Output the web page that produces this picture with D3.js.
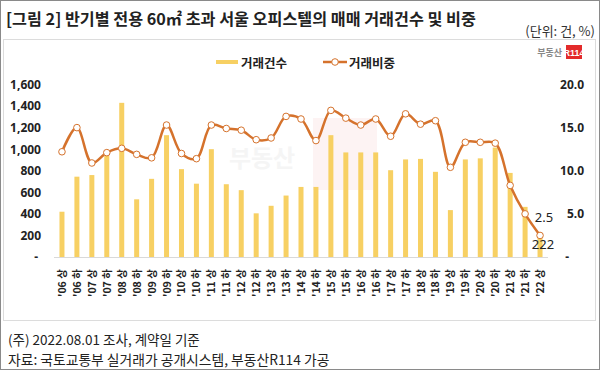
<!DOCTYPE html>
<html>
<head>
<meta charset="utf-8">
<script src="https://cdn.jsdelivr.net/npm/d3@7"></script>
<style>
  body { margin: 0; background: #fff; }
  svg { display: block; font-family: "Noto Sans CJK KR", "Noto Sans", sans-serif; }
</style>
</head>
<body>
<div class="chart"></div>
<script>
// half-year periods, '06 상 ~ '22 상
var periods = ["'06 상","'06 하","'07 상","'07 하","'08 상","'08 하","'09 상","'09 하","'10 상","'10 하",
  "'11 상","'11 하","'12 상","'12 하","'13 상","'13 하","'14 상","'14 하","'15 상","'15 하",
  "'16 상","'16 하","'17 상","'17 하","'18 상","'18 하","'19 상","'19 하","'20 상","'20 하",
  "'21 상","'21 하","'22 상"];

// 거래건수 (bars, left axis)
var dealCounts = [420, 745, 760, 940, 1430, 535, 725, 1130, 815, 680,
  1000, 675, 620, 405, 475, 570, 650, 650, 1130, 970,
  970, 970, 805, 905, 910, 790, 435, 905, 915, 1015,
  780, 465, 222];

// 거래비중 % (line, right axis)
var dealShare = [12.2, 15.0, 10.9, 12.1, 12.6, 11.9, 11.5, 15.3, 12.0, 11.4,
  15.3, 14.9, 14.7, 13.6, 13.8, 16.3, 16.0, 13.5, 17.0, 16.1,
  15.3, 16.0, 14.0, 16.6, 15.4, 15.8, 10.4, 13.3, 13.3, 13.2,
  8.3, 5.0, 2.5];

var leftTicks = [0, 200, 400, 600, 800, 1000, 1200, 1400, 1600];
var rightTicks = [0, 5, 10, 15, 20];

var W = 600, H = 370;
var barColor = '#F7D063';
var lineColor = '#D5722C';

var svg = d3.select('.chart').append('svg').attr('width', W).attr('height', H);

// outer frame + inner chart box
svg.append('rect').attr('x', 0.5).attr('y', 0.5).attr('width', W - 1).attr('height', H - 1)
  .attr('fill', '#fff').attr('stroke', '#8a8a8a');
svg.append('rect').attr('x', 3.5).attr('y', 39.5).attr('width', 592).attr('height', 281)
  .attr('fill', '#fff').attr('stroke', '#dcdcdc');

// title
svg.append('text').attr('x', 6).attr('y', 25)
  .attr('font-size', 16.2).attr('font-weight', 'bold').attr('fill', '#222')
  .text('[그림 2] 반기별 전용 60㎡ 초과 서울 오피스텔의 매매 거래건수 및 비중');
svg.append('text').attr('x', 595).attr('y', 36).attr('text-anchor', 'end')
  .attr('font-size', 13).attr('fill', '#333')
  .text('(단위: 건, %)');

// faint watermark
svg.append('text').attr('x', 262).attr('y', 167).attr('text-anchor', 'middle')
  .attr('font-size', 24).attr('font-weight', 'bold').attr('fill', '#f5f5f5')
  .text('부동산');
svg.append('rect').attr('x', 313).attr('y', 118).attr('width', 64).attr('height', 72)
  .attr('fill', '#fdf3f3');

// scales
var x = d3.scalePoint().domain(periods).range([54.5, 547.5]).padding(0.5);
var yLeft = d3.scaleLinear().domain([0, 1600]).range([257, 84.5]);
var yRight = d3.scaleLinear().domain([0, 20]).range([257, 84.5]);

// axes (labels only)
var leftAxis = svg.append('g').attr('transform', 'translate(41,0)')
  .call(d3.axisLeft(yLeft).tickValues(leftTicks).tickSize(0).tickPadding(0)
    .tickFormat(function (d) { return d === 0 ? '-' : d3.format(',')(d); }));
var rightAxis = svg.append('g').attr('transform', 'translate(584,0)')
  .call(d3.axisLeft(yRight).tickValues(rightTicks).tickSize(0).tickPadding(0)
    .tickFormat(function (d) { return d === 0 ? '-' : d3.format('.1f')(d); }));
[leftAxis, rightAxis].forEach(function (g) {
  g.select('.domain').remove();
  g.selectAll('text').attr('font-size', 12).attr('font-weight', 'bold').attr('fill', '#222')
    .attr('font-family', '"Noto Sans", sans-serif');
});
leftAxis.selectAll('text').filter(function (d) { return d === 0; }).attr('dx', -3);
rightAxis.selectAll('text').filter(function (d) { return d === 0; }).attr('dx', -15);

// x axis line
svg.append('line').attr('x1', 54).attr('x2', 548).attr('y1', 257.5).attr('y2', 257.5)
  .attr('stroke', '#d9d9d9');

// bars
svg.selectAll('.bar').data(dealCounts).enter().append('rect')
  .attr('class', 'bar')
  .attr('x', function (d, i) { return x(periods[i]) - 2.5; })
  .attr('y', function (d) { return yLeft(d); })
  .attr('width', 5)
  .attr('height', function (d) { return yLeft(0) - yLeft(d); })
  .attr('fill', barColor);

// share line
var line = d3.line()
  .x(function (d, i) { return x(periods[i]); })
  .y(function (d) { return yRight(d); })
  .curve(d3.curveCatmullRom);
svg.append('path').datum(dealShare).attr('d', line)
  .attr('fill', 'none').attr('stroke', lineColor).attr('stroke-width', 2.5);

svg.selectAll('.dot').data(dealShare).enter().append('circle')
  .attr('class', 'dot')
  .attr('cx', function (d, i) { return x(periods[i]); })
  .attr('cy', function (d) { return yRight(d); })
  .attr('r', 3.3)
  .attr('fill', '#fff').attr('stroke', lineColor).attr('stroke-width', 1);

// x labels, rotated
svg.selectAll('.xlab').data(periods).enter().append('text')
  .attr('class', 'xlab')
  .attr('transform', function (d) { return 'translate(' + (x(d) + 4) + ',297) rotate(-90)'; })
  .attr('font-size', 10.5).attr('font-weight', 'bold').attr('fill', '#222')
  .text(function (d) { return d; });

// last point labels
var last = periods.length - 1;
svg.append('text').attr('x', x(periods[last]) + 4).attr('y', 222).attr('text-anchor', 'middle')
  .attr('font-size', 13).attr('fill', '#222').attr('font-family', '"Noto Sans", sans-serif')
  .text(d3.format('.1f')(dealShare[last]));
svg.append('text').attr('x', x(periods[last]) + 3).attr('y', 249).attr('text-anchor', 'middle')
  .attr('font-size', 13).attr('fill', '#222').attr('font-family', '"Noto Sans", sans-serif')
  .text(dealCounts[last]);

// legend
var lg = svg.append('g');
lg.append('rect').attr('x', 216).attr('y', 60).attr('width', 22).attr('height', 4).attr('fill', barColor);
lg.append('text').attr('x', 241).attr('y', 68).attr('font-size', 12.5).attr('font-weight', 'bold')
  .attr('fill', '#222').text('거래건수');
lg.append('line').attr('x1', 323).attr('x2', 347).attr('y1', 62).attr('y2', 62)
  .attr('stroke', lineColor).attr('stroke-width', 2.5);
lg.append('circle').attr('cx', 335).attr('cy', 62).attr('r', 3.3)
  .attr('fill', '#fff').attr('stroke', lineColor);
lg.append('text').attr('x', 349).attr('y', 68).attr('font-size', 12.5).attr('font-weight', 'bold')
  .attr('fill', '#222').text('거래비중');

// logo
svg.append('text').attr('x', 562).attr('y', 56).attr('text-anchor', 'end')
  .attr('font-size', 9).attr('font-weight', 'bold').attr('fill', '#888').text('부동산');
svg.append('rect').attr('x', 566).attr('y', 45).attr('width', 16).attr('height', 14).attr('fill', '#e32b2b');
svg.append('text').attr('x', 574).attr('y', 56).attr('text-anchor', 'middle')
  .attr('font-size', 9).attr('font-weight', 'bold').attr('fill', '#fff')
  .attr('font-family', '"Liberation Sans", sans-serif').text('R114');

// footnotes
svg.append('text').attr('x', 8).attr('y', 345).attr('font-size', 13.5).attr('fill', '#222')
  .text('(주) 2022.08.01  조사, 계약일 기준');
svg.append('text').attr('x', 8).attr('y', 365).attr('font-size', 13.8).attr('fill', '#222')
  .text('자료: 국토교통부 실거래가 공개시스템, 부동산R114 가공');
</script>
</body>
</html>
